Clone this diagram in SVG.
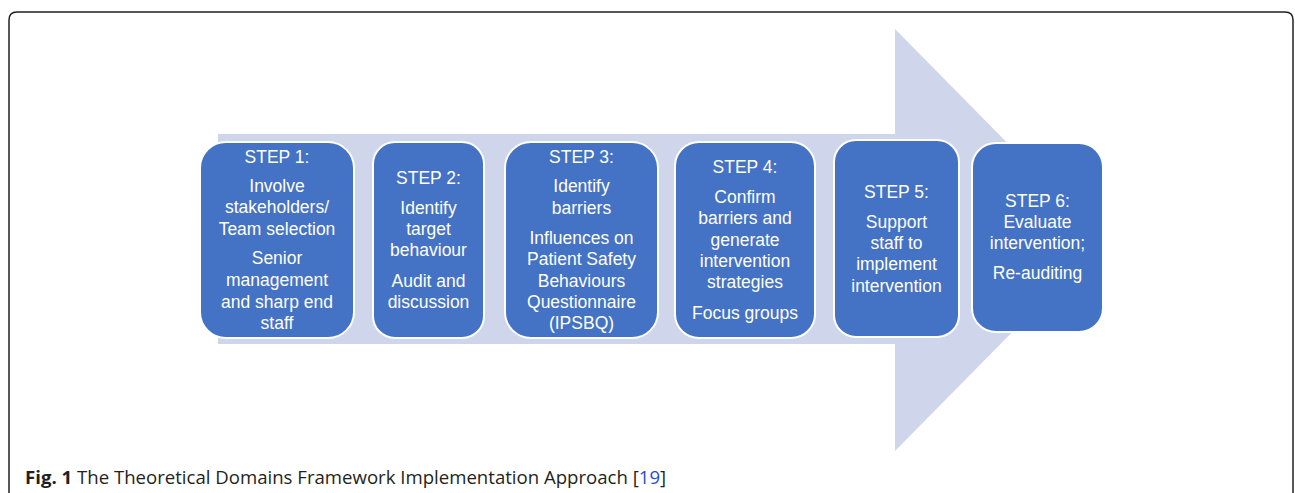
<svg xmlns="http://www.w3.org/2000/svg" width="1295" height="493" viewBox="0 0 1295 493">
<style>
.frame{fill:none;stroke:#231f20;stroke-width:1.5}
.box{fill:#4472C4;stroke:#ffffff;stroke-width:2}
.t{font-family:"Liberation Sans",Arial,sans-serif;font-size:17.5px;fill:#ffffff;text-anchor:middle}
.cap{font-family:"Open Sans","Liberation Sans",sans-serif;font-size:18.6px;fill:#231f20}
</style>
<rect width="1295" height="493" fill="#ffffff"/>
<path class="frame" d="M9,495 V20 Q9,12 17,12 H1285 Q1293,12 1293,20 V495"/>
<g id="arrow">
<path d="M218,134 H895 V29 L1103,240 L895,451 V344 H218 Z" fill="#CFD5EA"/>
</g>
<g id="connectors"></g>
<g id="step1">
<rect class="box" x="200" y="142" width="154" height="196" rx="26"/>
<text class="t" x="277" y="163">STEP 1:</text>
<text class="t" x="277" y="192">Involve</text>
<text class="t" x="277" y="213">stakeholders/</text>
<text class="t" x="277" y="235">Team selection</text>
<text class="t" x="277" y="264">Senior</text>
<text class="t" x="277" y="286">management</text>
<text class="t" x="277" y="308">and sharp end</text>
<text class="t" x="277" y="329">staff</text>
</g>
<g id="step2">
<rect class="box" x="373" y="142" width="111" height="196" rx="22"/>
<text class="t" x="428.5" y="184">STEP 2:</text>
<text class="t" x="428.5" y="214">Identify</text>
<text class="t" x="428.5" y="235">target</text>
<text class="t" x="428.5" y="256">behaviour</text>
<text class="t" x="428.5" y="287">Audit and</text>
<text class="t" x="428.5" y="308">discussion</text>
</g>
<g id="step3">
<rect class="box" x="505" y="142" width="153" height="196" rx="26"/>
<text class="t" x="581.5" y="163">STEP 3:</text>
<text class="t" x="581.5" y="192">Identify</text>
<text class="t" x="581.5" y="214">barriers</text>
<text class="t" x="581.5" y="244">Influences on</text>
<text class="t" x="581.5" y="265">Patient Safety</text>
<text class="t" x="581.5" y="287">Behaviours</text>
<text class="t" x="581.5" y="308">Questionnaire</text>
<text class="t" x="581.5" y="329">(IPSBQ)</text>
</g>
<g id="step4">
<rect class="box" x="675" y="142" width="140" height="196" rx="24"/>
<text class="t" x="745" y="173">STEP 4:</text>
<text class="t" x="745" y="203">Confirm</text>
<text class="t" x="745" y="224">barriers and</text>
<text class="t" x="745" y="246">generate</text>
<text class="t" x="745" y="267">intervention</text>
<text class="t" x="745" y="288">strategies</text>
<text class="t" x="745" y="319">Focus groups</text>
</g>
<g id="step5">
<rect class="box" x="834" y="140" width="125" height="197" rx="22"/>
<text class="t" x="896.5" y="198">STEP 5:</text>
<text class="t" x="896.5" y="228">Support</text>
<text class="t" x="896.5" y="249">staff to</text>
<text class="t" x="896.5" y="270">implement</text>
<text class="t" x="896.5" y="292">intervention</text>
</g>
<g id="step6">
<rect class="box" x="972" y="143" width="131" height="189" rx="24"/>
<text class="t" x="1037.5" y="207">STEP 6:</text>
<text class="t" x="1037.5" y="228">Evaluate</text>
<text class="t" x="1037.5" y="249">intervention;</text>
<text class="t" x="1037.5" y="279">Re-auditing</text>
</g>
<text class="cap" x="25" y="484"><tspan font-weight="bold">Fig. 1</tspan> The Theoretical Domains Framework Implementation Approach [<tspan fill="#1f4ed8">19</tspan>]</text>
</svg>
